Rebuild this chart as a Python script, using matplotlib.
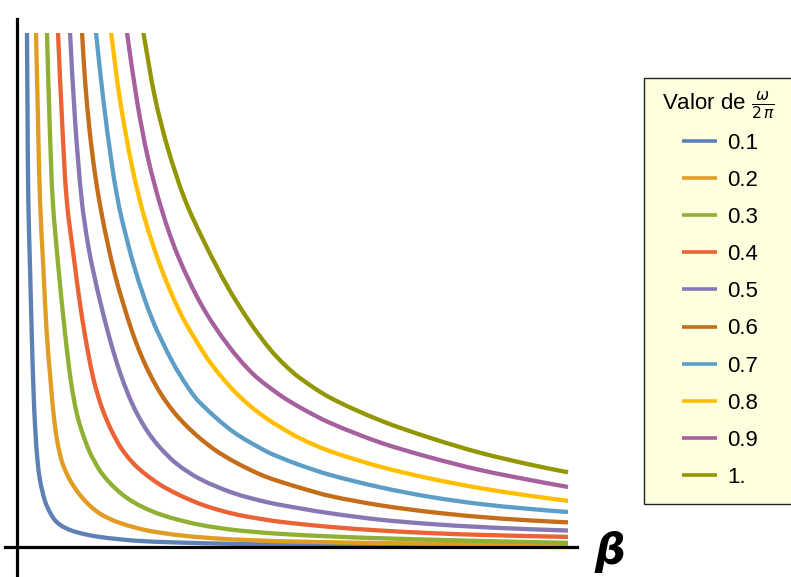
import math
import matplotlib
matplotlib.use('Agg')
import matplotlib.pyplot as plt
from matplotlib.patches import Rectangle, PathPatch
from matplotlib.path import Path

# fonts
plt.rc('font', family=['Liberation Sans', 'DejaVu Sans'])

# legend labels (omega / 2 pi)
omega_labels = ['0.1', '0.2', '0.3', '0.4', '0.5', '0.6', '0.7', '0.8', '0.9', '1.']

# Mathematica default palette
colors = ['#5E81B5', '#E19C24', '#8FB032', '#EB6235', '#8778B3',
          '#C56E1A', '#5D9EC7', '#FFBF00', '#A5609D', '#929600']

# curves (beta, value)
beta_01 = [0.181, 0.192, 0.205, 0.236, 0.267, 0.299, 0.332, 0.376, 0.417, 0.454, 0.508, 0.575, 0.672,
           0.786, 0.962, 1.211, 1.506, 1.815, 2.232, 2.904, 3.866, 4.773, 6.588, 8.403, 10.0]
y_01 = [10.0, 8.30, 6.75, 5.45, 4.17, 3.06, 2.28, 1.64, 1.31, 1.12, 0.90, 0.73, 0.553,
        0.437, 0.340, 0.262, 0.204, 0.165, 0.126, 0.097, 0.072, 0.058, 0.042, 0.034, 0.029]

beta_02 = [0.345, 0.381, 0.417, 0.477, 0.539, 0.608, 0.662, 0.726, 0.817, 0.926, 1.034, 1.174, 1.325,
           1.488, 1.670, 1.869, 2.142, 2.414, 2.904, 3.503, 4.229, 5.136, 6.588, 8.403, 10.0]
y_02 = [10.0, 8.30, 6.75, 5.45, 4.17, 3.25, 2.61, 2.09, 1.66, 1.38, 1.18, 0.98, 0.81,
        0.67, 0.563, 0.476, 0.388, 0.320, 0.243, 0.184, 0.142, 0.113, 0.087, 0.068, 0.052]

beta_03 = [0.544, 0.590, 0.648, 0.750, 0.871, 0.975, 1.083, 1.189, 1.325, 1.470, 1.561, 1.706, 1.898,
           2.123, 2.396, 2.650, 2.904, 3.321, 3.866, 4.229, 4.773, 5.681, 6.588, 8.403, 10.0]
y_03 = [10.0, 8.30, 6.75, 5.45, 4.17, 3.25, 2.61, 2.22, 1.84, 1.55, 1.41, 1.23, 1.04,
        0.875, 0.728, 0.625, 0.545, 0.44, 0.35, 0.31, 0.265, 0.215, 0.18, 0.127, 0.09]

beta_04 = [0.744, 0.817, 0.902, 1.053, 1.150, 1.234, 1.310, 1.385, 1.470, 1.566, 1.724, 1.897, 2.105,
           2.323, 2.595, 2.868, 3.140, 3.443, 3.866, 4.229, 4.773, 5.681, 6.588, 7.495, 8.403, 10.0]
y_04 = [10.0, 8.30, 6.75, 5.45, 4.68, 4.12, 3.67, 3.28, 2.95, 2.64, 2.25, 1.92, 1.64,
        1.43, 1.22, 1.06, 0.925, 0.80, 0.67, 0.59, 0.50, 0.40, 0.33, 0.28, 0.245, 0.205]

beta_05 = [0.962, 1.053, 1.174, 1.289, 1.397, 1.506, 1.633, 1.742, 1.869, 2.015, 2.178, 2.377,
           2.595, 2.904, 3.321, 3.920, 4.537, 5.136, 5.681, 6.588, 7.495, 8.403, 9.310, 10.0]
y_05 = [10.0, 8.30, 6.75, 5.88, 5.30, 4.79, 4.25, 3.83, 3.40, 2.98, 2.60, 2.24,
        1.94, 1.62, 1.33, 1.06, 0.88, 0.76, 0.665, 0.54, 0.457, 0.398, 0.355, 0.33]

beta_06 = [1.180, 1.234, 1.316, 1.416, 1.524, 1.652, 1.779, 1.924, 2.096, 2.250, 2.414, 2.613, 2.831, 3.067,
           3.321, 3.612, 3.920, 4.229, 4.501, 4.773, 5.136, 5.681, 6.588, 7.495, 8.403, 9.310, 10.0]
y_06 = [10.0, 9.08, 8.11, 7.25, 6.55, 5.87, 5.29, 4.75, 4.17, 3.74, 3.36, 2.98, 2.65, 2.37,
        2.12, 1.88, 1.68, 1.51, 1.38, 1.28, 1.16, 1.00, 0.82, 0.69, 0.593, 0.526, 0.488]

beta_07 = [1.434, 1.561, 1.724, 1.815, 1.906, 2.142, 2.450, 2.813, 3.103, 3.321,
           3.920, 4.537, 4.773, 5.136, 5.681, 6.588, 7.495, 8.403, 9.310, 10.0]
y_07 = [10.0, 8.74, 7.42, 6.83, 6.36, 5.40, 4.44, 3.62, 3.11, 2.81,
        2.25, 1.86, 1.75, 1.60, 1.41, 1.17, 0.983, 0.845, 0.748, 0.689]

beta_08 = [1.706, 1.869, 2.087, 2.323, 2.632, 2.995, 3.412, 3.630, 3.920, 4.229,
           4.537, 4.773, 5.136, 5.681, 6.588, 7.495, 8.403, 9.310, 10.0]
y_08 = [10.0, 8.69, 7.40, 6.37, 5.38, 4.49, 3.74, 3.42, 3.06, 2.75,
        2.50, 2.34, 2.12, 1.87, 1.57, 1.34, 1.154, 1.004, 0.905]

beta_09 = [1.996, 2.178, 2.377, 2.632, 2.922, 3.358, 3.829, 4.283,
           4.773, 5.136, 5.681, 6.588, 7.495, 8.403, 9.310, 10.0]
y_09 = [10.0, 8.67, 7.56, 6.54, 5.66, 4.69, 3.93, 3.37,
        2.96, 2.72, 2.42, 2.04, 1.75, 1.505, 1.31, 1.175]

beta_10 = [2.292, 2.505, 2.740, 3.049, 3.412, 3.829, 4.229, 4.592,
           4.864, 5.136, 5.681, 6.588, 7.495, 8.403, 9.310, 10.0]
y_10 = [10.0, 8.73, 7.74, 6.75, 5.90, 5.05, 4.37, 3.85,
        3.54, 3.29, 2.91, 2.47, 2.13, 1.84, 1.61, 1.46]

betas = [beta_01, beta_02, beta_03, beta_04, beta_05, beta_06, beta_07, beta_08, beta_09, beta_10]
ys = [y_01, y_02, y_03, y_04, y_05, y_06, y_07, y_08, y_09, y_10]


def smooth_path(xs, vs):
    # bezier path through the read points (tangent = direction of neighbours)
    pts = list(zip(xs, vs))
    n = len(pts)
    tans = []
    for i in range(n):
        a = pts[max(i - 1, 0)]
        b = pts[min(i + 1, n - 1)]
        dx, dy = b[0] - a[0], b[1] - a[1]
        d = math.hypot(dx, dy)
        tans.append((dx / d, dy / d))
    verts = [pts[0]]
    codes = [Path.MOVETO]
    for i in range(n - 1):
        p, q = pts[i], pts[i + 1]
        L = math.hypot(q[0] - p[0], q[1] - p[1]) / 3
        verts += [(p[0] + tans[i][0] * L, p[1] + tans[i][1] * L),
                  (q[0] - tans[i + 1][0] * L, q[1] - tans[i + 1][1] * L), q]
        codes += [Path.CURVE4] * 3
    return Path(verts, codes)


W, H = 791, 577
fig = plt.figure(figsize=(W / 100, H / 100), dpi=100)

# plot area: 5..577 px wide, 32.5..577 px tall
ax = fig.add_axes([5 / W, 0, 572 / W, 544.5 / H])
ax.set_xlim(-0.218, 10.163)
ax.set_ylim(-0.573, 10.0)
ax.axis('off')

for b, v, c in zip(betas, ys, colors):
    ax.add_patch(PathPatch(smooth_path(b, v), facecolor='none', edgecolor=c,
                           lw=3.1, capstyle='butt', joinstyle='round'))

# Mathematica style axes through the origin
ax.plot([-0.218, 10.163], [0, 0], color='black', lw=2.3, clip_on=False, zorder=5)
ax.plot([0, 0], [-0.573, 10.26], color='black', lw=2.3, clip_on=False, zorder=5)

fig.text(610 / W, 1 - 552 / H, 'β', fontsize=31, fontweight='bold', style='italic',
         family='DejaVu Sans', ha='center', va='center')

# legend drawn in pixel coordinates
lax = fig.add_axes([0, 0, 1, 1], zorder=10)
lax.set_xlim(0, W)
lax.set_ylim(H, 0)
lax.axis('off')
lax.add_patch(Rectangle((643.5, 78), 160, 426, facecolor='#FFFFE0',
                        edgecolor='#222222', lw=1.0, clip_on=False))
lax.text(662, 110, r'Valor de $\frac{\omega}{2\,\pi}$', fontsize=16,
         ha='left', va='baseline')
for i, (lab, c) in enumerate(zip(omega_labels, colors)):
    yy = 141 + i * 37.1
    lax.plot([682, 717], [yy, yy], color=c, lw=2.6, solid_capstyle='butt')
    lax.text(727, yy, lab, fontsize=16, ha='left', va='center_baseline')

fig.savefig('out.png', dpi=100)
